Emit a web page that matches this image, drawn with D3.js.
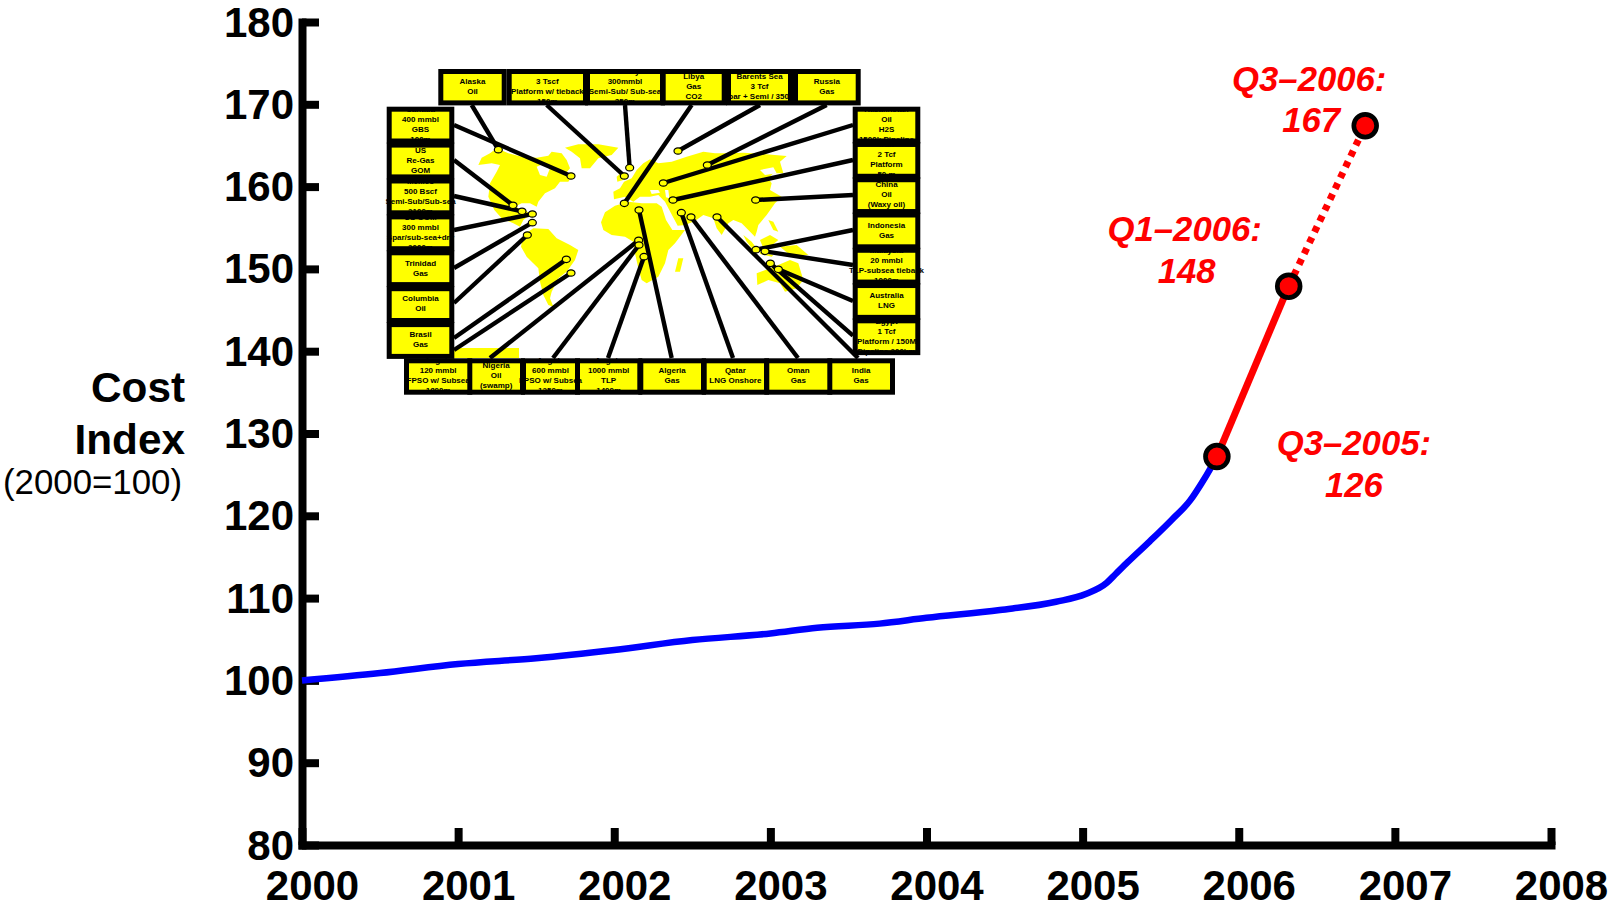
<!DOCTYPE html>
<html>
<head>
<meta charset="utf-8">
<script src="https://cdn.jsdelivr.net/npm/d3@7"></script>
<style>
  body { margin: 0; background: #fff; }
  svg { display: block; font-family: "Liberation Sans", Arial, sans-serif; }
  .axis path, .axis line { stroke: #000; }
  .axis text { font-size: 42px; font-weight: bold; fill: #000; }
  .note { font-size: 34.7px; font-weight: bold; font-style: italic; fill: #f00; text-anchor: middle; }
  .box-text { font-size: 8px; font-weight: bold; fill: #000; text-anchor: middle; }
</style>
</head>
<body>
<script>
const width = 1610, height = 906;

// cost index
const yearTicks = [2000, 2001, 2002, 2003, 2004, 2005, 2006, 2007, 2008];
const indexTicks = [80, 90, 100, 110, 120, 130, 140, 150, 160, 170, 180];
const actualYears = [2000, 2000.5, 2001, 2001.5, 2002, 2002.5, 2003, 2003.3, 2003.7, 2004, 2004.47, 2004.83, 2005.02, 2005.155, 2005.21, 2005.29, 2005.43, 2005.57, 2005.69, 2005.76, 2005.82, 2005.86];
const actualIndex = [100, 100.9, 102, 102.7, 103.7, 104.9, 105.7, 106.4, 106.9, 107.6, 108.55, 109.56, 110.5, 111.87, 112.9, 114.4, 116.9, 119.5, 121.9, 123.9, 125.8, 127.2];
const quarterYears = [2005.86, 2006.32, 2006.81];
const quarterIndex = [127.2, 147.9, 167.4];
const quarterNotes = [
  { head: "Q3–2005:", value: "126" },
  { head: "Q1–2006:", value: "148" },
  { head: "Q3–2006:", value: "167" }
];

// inset map outlines, in map grid units
const landShapes = [
  [[70,90],[80,68],[105,55],[125,40],[160,55],[200,65],[245,68],[280,62],[290,50],[320,55],[335,75],[345,100],[335,112],[350,125],[340,140],[315,140],[300,160],[270,175],[250,200],[245,215],[225,205],[200,205],[185,212],[195,232],[215,228],[225,240],[205,255],[195,275],[175,265],[140,250],[118,225],[100,185],[105,145],[125,110],[135,90],[110,85]],
  [[330,38],[370,28],[430,28],[490,38],[470,60],[430,70],[405,100],[380,100],[375,70],[350,50]],
  [[205,300],[235,280],[280,282],[305,310],[345,330],[370,345],[360,375],[335,410],[310,430],[290,470],[285,490],[295,515],[280,510],[265,480],[255,440],[250,400],[215,365],[198,335]],
  [[438,262],[450,232],[480,212],[520,200],[560,205],[605,205],[620,215],[633,255],[652,285],[690,285],[660,325],[640,345],[630,385],[610,425],[575,445],[560,435],[550,400],[540,355],[535,320],[510,305],[470,300],[445,285]],
  [[477,193],[475,170],[495,160],[507,140],[530,130],[545,105],[565,85],[585,73],[610,85],[650,80],[695,65],[745,50],[780,55],[810,55],[865,53],[925,57],[995,63],[975,80],[985,115],[955,115],[940,130],[950,145],[945,165],[980,185],[960,205],[935,240],[910,270],[905,290],[900,305],[880,285],[860,265],[835,255],[820,265],[800,300],[785,280],[775,250],[745,240],[720,258],[690,270],[668,272],[648,235],[630,200],[610,180],[585,185],[555,185],[535,200],[510,185]],
  [[485,125],[497,115],[505,135],[487,140]],
  [[670,370],[685,370],[675,410],[660,410]],
  [[940,255],[955,260],[970,290],[955,285]],
  [[865,300],[890,320],[905,340],[895,345],[875,320]],
  [[915,315],[945,300],[970,315],[945,335],[925,340]],
  [[915,350],[955,360],[950,365],[915,357]],
  [[975,335],[1025,330],[1060,360],[1005,360]],
  [[905,415],[945,400],[970,390],[1005,375],[1030,385],[1045,435],[1025,460],[990,470],[975,445],[940,435],[907,450]],
  [[-3,639],[192,639],[192,669],[-3,669]]
];
const seaShapes = [
  [[245,95],[270,85],[285,100],[275,125],[255,120]],
  [[585,165],[610,165],[615,173],[590,177]],
  [[630,165],[640,165],[643,190],[633,187]],
  [[915,105],[955,97],[965,115],[930,120]]
];

const topLabels = [
  ["Alaska", "Oil"],
  ["UK North Sea", "3 Tscf", "Platform w/ tieback", "150m"],
  ["Norway", "300mmbl", "Semi-Sub/ Sub-sea", "350m"],
  ["Libya", "Gas", "CO2"],
  ["Barents Sea", "3 Tcf", "Spar + Semi / 350m"],
  ["Russia", "Gas"]
];
const topPins = [[130,44],[508,123],[524,98],[508,205],[669,48],[757,90]];
const topEnds = [[50,-90],[275,-90],[510,-90],[710,-90],[915,-90],[1115,-90]];

const leftLabels = [
  ["Canada", "400 mmbl", "GBS", "100m"],
  ["US", "Re-Gas", "GOM"],
  ["Mexico", "500 Bscf", "Semi-Sub/Sub-sea", "2100m"],
  ["US GOM", "300 mmbl", "Spar/sub-sea+dry", "2000m"],
  ["Trinidad", "Gas"],
  ["Columbia", "Oil"],
  ["Brasil", "Gas"]
];
const leftPins = [[348,123],[174,211],[201,229],[232,237],[232,263],[217,300],[334,373]];
const leftEnds = [[-3,-30],[-3,75],[-3,183],[-3,285],[-3,399],[-3,504],[-3,609]];

const rightLabels = [
  ["Kazakhstan", "Oil", "H2S", "1500k Pipeline"],
  ["Iran", "2 Tcf", "Platform", "50 m"],
  ["China", "Oil", "(Waxy oil)"],
  ["Indonesia", "Gas"],
  ["Malaysia", "20 mmbl", "TLP-subsea tieback", "1000m"],
  ["Australia", "LNG"],
  ["Egypt", "1 Tcf", "Platform / 150M", "Pipeline 200km"]
];
const rightPins = [[625,144],[654,195],[902,195],[903,344],[930,349],[970,403],[946,385]];
const rightEnds = [[1194,-30],[1194,75],[1194,180],[1194,285],[1194,390],[1194,498],[1194,602]];

const bottomLabels = [
  ["Angola", "120 mmbl", "FPSO w/ Subsea", "1800m"],
  ["Nigeria", "Oil", "(swamp)"],
  ["Angola", "600 mmbl", "FPSO w/ Subsea", "1250m"],
  ["Angola", "1000 mmbl", "TLP", "1400m"],
  ["Algeria", "Gas"],
  ["Qatar", "LNG Onshore"],
  ["Oman", "Gas"],
  ["India", "Gas"]
];
const bottomPins = [[348,414],[551,316],[552,330],[567,365],[552,225],[679,233],[708,246],[786,246]];
const bottomEnds = [[-3,645],[105,669],[294,669],[459,669],[650,669],[834,669],[1029,669],[1209,669]];

// box layout of the inset
const topBoxX = [443.3, 511.7, 590, 665.7, 731, 798];
const topBoxW = [58.4, 71.3, 70, 56, 57, 57.7];
const bottomBoxX = [409, 472.3, 526, 580, 643.3, 706.7, 769.3, 832.3];
const bottomBoxW = [58.3, 47.7, 49, 57.3, 57.7, 57.3, 58, 57.7];
const sideBoxW = 57.6, sideBoxH = 26.8, sideTop = 111.7;
const rowH = 26.4, border = 5;

const svg = d3.select("body").append("svg").attr("width", width).attr("height", height);

const x = d3.scaleLinear().domain([2000, 2008]).range([302, 1551]);
const y = d3.scaleLinear().domain([80, 180]).range([845, 22]);
const mapX = d3.scaleLinear().domain([0, 1200]).range([455, 855]);
const mapY = d3.scaleLinear().domain([0, 600]).range([135, 335]);

const xAxis = svg.append("g").attr("class", "axis").attr("transform", `translate(0,${y(80)})`)
  .call(d3.axisBottom(x).tickValues(yearTicks).tickFormat(d3.format("d")).tickSize(-17).tickSizeOuter(0));
const yAxis = svg.append("g").attr("class", "axis").attr("transform", `translate(${x(2000)},0)`)
  .call(d3.axisLeft(y).tickValues(indexTicks).tickSize(-17).tickSizeOuter(0));

xAxis.select(".domain").attr("stroke-width", 8).attr("stroke-linecap", "square");
yAxis.select(".domain").attr("stroke-width", 8).attr("stroke-linecap", "square");
xAxis.selectAll(".tick line").attr("stroke-width", 8);
yAxis.selectAll(".tick line").attr("stroke-width", 8);
xAxis.selectAll("text").attr("x", 10).attr("y", 55).attr("dy", 0);
yAxis.selectAll("text").attr("x", -8).attr("dy", 14);

// axis title
const title = svg.append("g").attr("font-size", 42.3).attr("font-weight", "bold").attr("text-anchor", "end");
title.append("text").attr("x", 185).attr("y", 402).text("Cost");
title.append("text").attr("x", 185).attr("y", 454).text("Index");
svg.append("text").attr("x", 182).attr("y", 494).attr("text-anchor", "end").attr("font-size", 34.8).text("(2000=100)");

// inset map
const mapLine = d3.line().x(d => mapX(d[0])).y(d => mapY(d[1]));
const inset = svg.append("g");
inset.selectAll("path.land").data(landShapes).join("path").attr("class", "land")
  .attr("d", d => mapLine(d) + "Z").attr("fill", "#ff0");
inset.selectAll("path.sea").data(seaShapes).join("path").attr("class", "sea")
  .attr("d", d => mapLine(d) + "Z").attr("fill", "#fff");

const groups = [
  { labels: topLabels, pins: topPins, ends: topEnds, bx: i => topBoxX[i], bw: i => topBoxW[i], by: () => 74, bh: rowH },
  { labels: leftLabels, pins: leftPins, ends: leftEnds, bx: () => 391.7, bw: () => sideBoxW, by: i => sideTop + i * 35.9, bh: sideBoxH },
  { labels: rightLabels, pins: rightPins, ends: rightEnds, bx: () => 857.7, bw: () => sideBoxW, by: i => sideTop + i * 35.27, bh: sideBoxH },
  { labels: bottomLabels, pins: bottomPins, ends: bottomEnds, bx: i => bottomBoxX[i], bw: i => bottomBoxW[i], by: () => 363.3, bh: rowH }
];

groups.forEach(g => {
  inset.append("g").selectAll("line").data(g.pins).join("line")
    .attr("x1", d => mapX(d[0])).attr("y1", d => mapY(d[1]))
    .attr("x2", (d, i) => mapX(g.ends[i][0])).attr("y2", (d, i) => mapY(g.ends[i][1]))
    .attr("stroke", "#000").attr("stroke-width", 4.4);
});
groups.forEach(g => {
  inset.append("g").selectAll("ellipse").data(g.pins).join("ellipse")
    .attr("cx", d => mapX(d[0])).attr("cy", d => mapY(d[1]))
    .attr("rx", 4).attr("ry", 3.2)
    .attr("fill", "#ff0").attr("stroke", "#000").attr("stroke-width", 1.2);
});
// black frames first so that neighbours run together, then the yellow, then the text
groups.forEach(g => {
  inset.append("g").selectAll("rect").data(g.labels).join("rect")
    .attr("x", (d, i) => g.bx(i) - border).attr("y", (d, i) => g.by(i) - border)
    .attr("width", (d, i) => g.bw(i) + 2 * border).attr("height", g.bh + 2 * border)
    .attr("fill", "#000");
});
groups.forEach(g => {
  inset.append("g").selectAll("rect").data(g.labels).join("rect")
    .attr("x", (d, i) => g.bx(i)).attr("y", (d, i) => g.by(i))
    .attr("width", (d, i) => g.bw(i)).attr("height", g.bh)
    .attr("fill", "#ff0");
});
groups.forEach(g => {
  g.labels.forEach((lines, i) => {
    const cx = g.bx(i) + g.bw(i) / 2, cy = g.by(i) + g.bh / 2;
    lines.forEach((t, j) => {
      inset.append("text").attr("class", "box-text")
        .attr("x", cx).attr("y", cy + (j - (lines.length - 1) / 2) * 10 + 1.8).text(t);
    });
  });
});

// cost curve
const curve = d3.line().x(d => x(d[0])).y(d => y(d[1]));
svg.append("path").datum(d3.zip(actualYears, actualIndex)).attr("d", curve.curve(d3.curveMonotoneX))
  .attr("fill", "none").attr("stroke", "#00f").attr("stroke-width", 6.5);
const straight = d3.line().x(d => x(d[0])).y(d => y(d[1]));
const quarters = d3.zip(quarterYears, quarterIndex);
svg.append("path").datum(quarters.slice(0, 2)).attr("d", straight)
  .attr("fill", "none").attr("stroke", "#f00").attr("stroke-width", 7);
svg.append("path").datum(quarters.slice(1)).attr("d", straight)
  .attr("fill", "none").attr("stroke", "#f00").attr("stroke-width", 7).attr("stroke-dasharray", "6 6");
svg.selectAll("circle.quarter").data(quarters).join("circle").attr("class", "quarter")
  .attr("cx", d => x(d[0])).attr("cy", d => y(d[1])).attr("r", 11.4)
  .attr("fill", "#f00").attr("stroke", "#000").attr("stroke-width", 4.7);

// note offsets from their markers
const noteDx = [137, -104, -56];
const noteHeadDy = [-2, -45, -35];
const noteValueDy = [40, -3, 6];
svg.selectAll("text.head").data(quarterNotes).join("text").attr("class", "note head")
  .attr("x", (d, i) => x(quarterYears[i]) + noteDx[i])
  .attr("y", (d, i) => y(quarterIndex[i]) + noteHeadDy[i]).text(d => d.head);
svg.selectAll("text.value").data(quarterNotes).join("text").attr("class", "note value")
  .attr("x", (d, i) => x(quarterYears[i]) + noteDx[i] + (i ? 2 : 0))
  .attr("y", (d, i) => y(quarterIndex[i]) + noteValueDy[i]).text(d => d.value);
</script>
</body>
</html>
